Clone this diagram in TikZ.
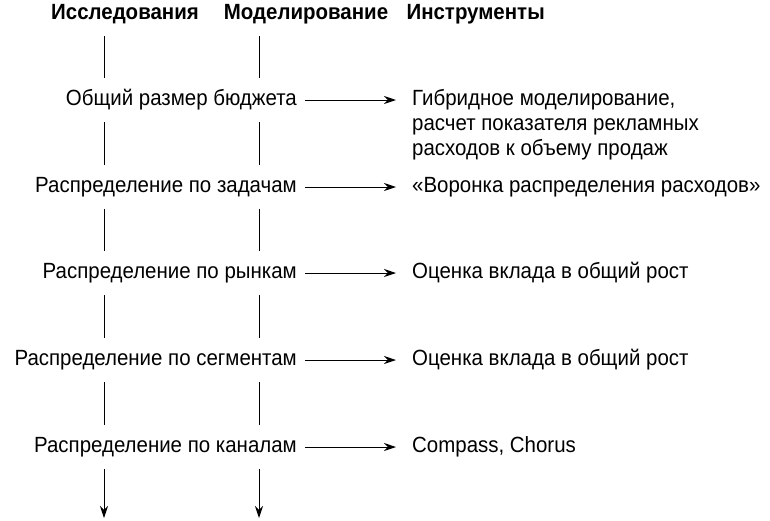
\documentclass[tikz,border=0pt]{standalone}
\usepackage{fontspec}
\setmainfont[FakeStretch=0.93]{Liberation Sans}
\usetikzlibrary{arrows.meta}
\tikzset{
  row/.style={font=\fontsize{22}{25}\selectfont, fill=white, inner xsep=2pt, inner ysep=12pt},
  tool/.style={font=\fontsize{22}{25}\selectfont, inner sep=2pt},
  head/.style={font=\fontsize{22}{25}\selectfont\bfseries},
  arr/.style={-{Stealth[length=12pt,width=8pt]}, line width=1pt}
}
\begin{document}
\begin{tikzpicture}[x=1pt,y=-1pt]
\useasboundingbox (0,0) rectangle (770,520);
%headers
\node[head] (h1) at (125,14) {Исследования};
\node[head] (h2) at (306,14) {Моделирование};
\node[head, anchor=west] (h3) at (403,14) {Инструменты};
%vertical lines
\coordinate (e1) at (104,518);
\coordinate (e2) at (259,518);
\draw[arr] (104,36) -- (e1);
\draw[arr] (259,36) -- (e2);
%rows
\node[row, anchor=east] (r1) at (299,100) {Общий размер бюджета};
\node[row, anchor=east] (r2) at (299,187) {Распределение по задачам};
\node[row, anchor=east] (r3) at (299,273) {Распределение по рынкам};
\node[row, anchor=east] (r4) at (299,360) {Распределение по сегментам};
\node[row, anchor=east] (r5) at (299,447) {Распределение по каналам};
%tools
\node[tool, anchor=north west, align=left] (t1) at (410,87) {Гибридное моделирование,\\расчет показателя рекламных\\расходов к объему продаж};
\node[tool, anchor=west] (t2) at (410,187) {«Воронка распределения расходов»};
\node[tool, anchor=west] (t3) at (410,273) {Оценка вклада в общий рост};
\node[tool, anchor=west] (t4) at (410,360) {Оценка вклада в общий рост};
\node[tool, anchor=west] (t5) at (410,447) {Compass, Chorus};
%arrows
\draw[arr, shorten >=14pt] (r1.east) ++(6,0) -- (t1.west |- r1);
\foreach \i in {2,...,5}
  \draw[arr, shorten >=14pt] (r\i.east) ++(6,0) -- (t\i.west);
\end{tikzpicture}
\end{document}
